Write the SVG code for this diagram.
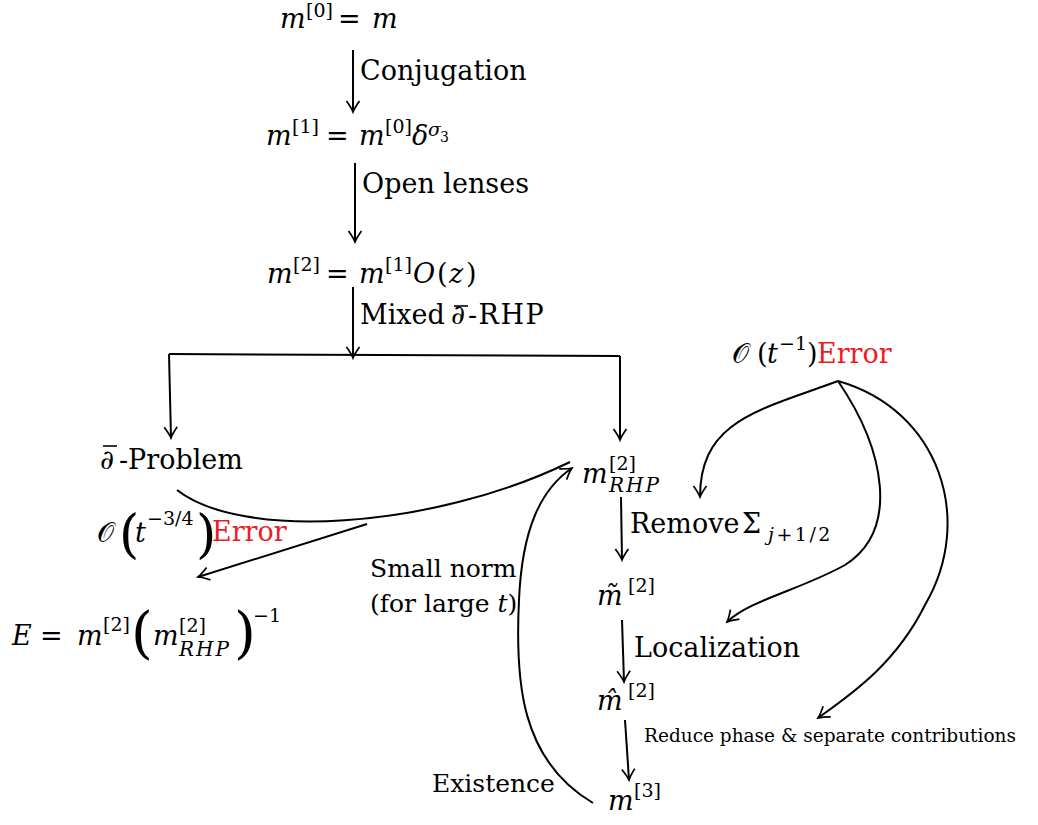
<svg xmlns="http://www.w3.org/2000/svg" width="1038" height="825" viewBox="0 0 1038 825">
<defs>
<style>
.cnq{fill:none;stroke:#000;stroke-width:2}
.olq{stroke:#000;stroke-width:1.6}
</style>
<marker id="ah" viewBox="-13 -8 15 16" refX="0" refY="0" markerWidth="15" markerHeight="16" orient="auto" markerUnits="userSpaceOnUse">
<path d="M-11,-6.5 Q-4,-1.5 0,0 Q-4,1.5 -11,6.5" fill="none" stroke="#000" stroke-width="1.7"/>
</marker>
</defs>
<rect width="1038" height="825" fill="#fff"/>
<g fill="#000" font-family="DejaVu Serif, Liberation Serif, serif" font-size="27">
<g id="connectors">
<path class="cnq" d="M353 50 L353 112" marker-end="url(#ah)"/>
<path class="cnq" d="M355 163 L355 242" marker-end="url(#ah)"/>
<path class="cnq" d="M353 287 L353 358" marker-end="url(#ah)"/>
<path class="cnq" d="M169 354 L620 356"/>
<path class="cnq" d="M169 354 L171 438" marker-end="url(#ah)"/>
<path class="cnq" d="M620 356 L620 440" marker-end="url(#ah)"/>
<path class="cnq" d="M177 490 C240 540 430 530 570 462"/>
<path class="cnq" d="M367 524 L198 577" marker-end="url(#ah)"/>
<path class="cnq" d="M593 803 C520 760 515 680 519 600 C522 530 540 490 572 468" marker-end="url(#ah)"/>
<path class="cnq" d="M621 497 L622 560" marker-end="url(#ah)"/>
<path class="cnq" d="M622 620 L624 682" marker-end="url(#ah)"/>
<path class="cnq" d="M625 720 L629 780" marker-end="url(#ah)"/>
<path class="cnq" d="M838 381 C760 410 700 420 700 497" marker-end="url(#ah)"/>
<path class="cnq" d="M838 381 C885 450 900 530 845 565 C800 590 750 600 727 622" marker-end="url(#ah)"/>
<path class="cnq" d="M838 381 C940 410 975 520 925 605 C895 665 850 695 818 718" marker-end="url(#ah)"/>
<text x="360" y="80">Conjugation</text>
<text x="362" y="193">Open lenses</text>
<text x="360" y="324">Mixed</text>
<text font-style="italic" x="451" y="324">∂</text>
<line class="olq" x1="454" y1="306" x2="468" y2="306"/>
<text x="468" y="324" letter-spacing="1.5">-RHP</text>
<text x="630" y="533">Remove</text>
<text x="742" y="533">Σ</text>
<text font-size="19" x="768" y="541" letter-spacing="2.5"><tspan font-style="italic">j</tspan>+1/2</text>
<text x="634" y="657">Localization</text>
<text font-size="18.5" x="644" y="742">Reduce phase &amp; separate contributions</text>
<text font-size="25" x="370" y="577">Small norm</text>
<text font-size="25" x="370" y="612">(for large <tspan font-style="italic">t</tspan>)</text>
<text font-size="25" x="432" y="792">Existence</text>
</g>

<g id="m0">
<text font-style="italic" x="280" y="28">m</text>
<text font-size="19" x="306" y="17">[0]</text>
<text x="338" y="28">=</text>
<text font-style="italic" x="372" y="28">m</text>
</g>

<g id="m1">
<text font-style="italic" x="266" y="145">m</text>
<text font-size="19" x="292" y="133">[1]</text>
<text x="326" y="145">=</text>
<text font-style="italic" x="359" y="145">m</text>
<text font-size="19" x="385" y="133">[0]</text>
<text font-style="italic" x="412" y="145">δ</text>
<text font-size="19" font-style="italic" x="428" y="136">σ</text>
<text font-size="14" x="440" y="142">3</text>
</g>

<g id="m2">
<text font-style="italic" x="267" y="283">m</text>
<text font-size="19" x="293" y="271">[2]</text>
<text x="326" y="283">=</text>
<text font-style="italic" x="359" y="283">m</text>
<text font-size="19" x="385" y="271">[1]</text>
<text font-style="italic" x="413" y="283">O</text>
<text x="437" y="283">(</text>
<text font-style="italic" x="449" y="283">z</text>
<text x="466" y="283">)</text>
</g>

<g id="dbar-problem">
<text font-style="italic" x="100" y="469">∂</text>
<line class="olq" x1="103" y1="446" x2="117" y2="446"/>
<text x="119" y="469">-Problem</text>
</g>

<g id="mRHP">
<text font-style="italic" x="582" y="483">m</text>
<text font-size="19" x="609" y="470">[2]</text>
<text font-size="20" font-style="italic" x="609" y="492" letter-spacing="2">RHP</text>
</g>

<g id="err34">
<text x="97" y="542">𝒪</text>
<text font-size="52" x="119" y="552">(</text>
<text font-style="italic" x="135" y="542">t</text>
<text font-size="19" x="147" y="525">−3/4</text>
<text font-size="52" x="196" y="552">)</text>
<text fill="#ed1c24" x="212" y="541">Error</text>
</g>

<g id="E">
<text font-style="italic" x="12" y="645">E</text>
<text x="40" y="645">=</text>
<text font-style="italic" x="77" y="645">m</text>
<text font-size="19" x="103" y="631">[2]</text>
<text font-size="56" x="131" y="652">(</text>
<text font-style="italic" x="153" y="645">m</text>
<text font-size="19" x="179" y="632">[2]</text>
<text font-size="20" font-style="italic" x="179" y="656" letter-spacing="2">RHP</text>
<text font-size="56" x="234" y="652">)</text>
<text font-size="19" x="253" y="622">−1</text>
</g>

<g id="err1">
<text x="732" y="363">𝒪</text>
<text x="757" y="363">(</text>
<text font-style="italic" x="767" y="363">t</text>
<text font-size="19" x="779" y="350">−1</text>
<text x="807" y="363">)</text>
<text fill="#ed1c24" x="817" y="363">Error</text>
</g>

<g id="mtilde">
<text font-style="italic" x="597" y="605">m̃</text>
<text font-size="19" x="628" y="592">[2]</text>
</g>

<g id="mhat">
<text font-style="italic" x="597" y="710">m̂</text>
<text font-size="19" x="628" y="697">[2]</text>
</g>

<g id="m3">
<text font-style="italic" x="608" y="810">m</text>
<text font-size="19" x="634" y="797">[3]</text>
</g>
</g>
</svg>
